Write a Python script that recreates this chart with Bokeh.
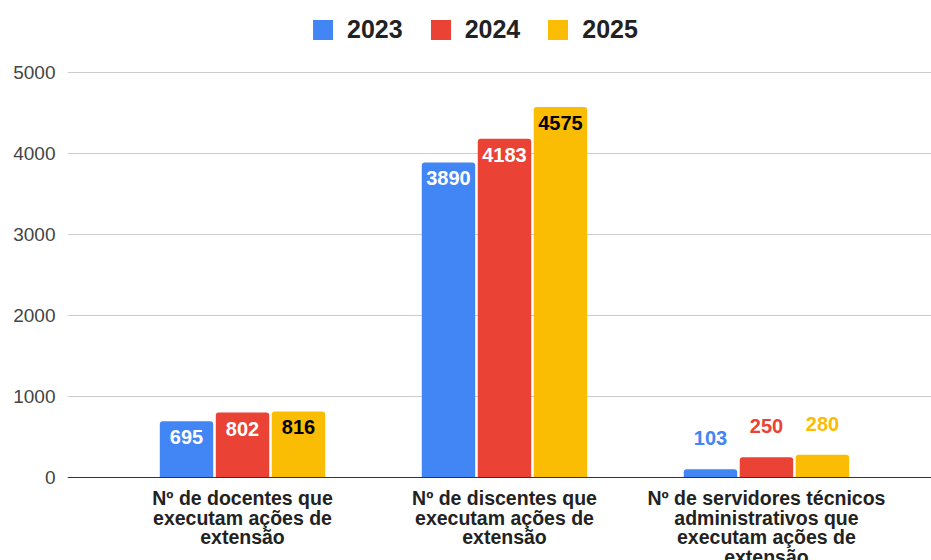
from bokeh.plotting import figure
from bokeh.models import (ColumnDataSource, Range1d, FixedTicker, Legend, LegendItem, Span)
from bokeh.core.properties import value
from bokeh.embed import file_html
from bokeh.resources import INLINE

categories = [
    "Nº de docentes que\nexecutam ações de\nextensão",
    "Nº de discentes que\nexecutam ações de\nextensão",
    "Nº de servidores técnicos\nadministrativos que\nexecutam ações de\nextensão",
]
years = ["2023", "2024", "2025"]
v2023 = [695, 3890, 103]
v2024 = [802, 4183, 250]
v2025 = [816, 4575, 280]
y_ticks = [0, 1000, 2000, 3000, 4000, 5000]

series = [v2023, v2024, v2025]
colors = ["#4285F4", "#EA4335", "#FBBC04"]
inside_label_colors = ["#ffffff", "#ffffff", "#000000"]
offsets = [-0.2137, 0.0, 0.2137]
bar_width = 0.204
FONT = "Liberation Sans"

# frame spans the full canvas height; the y range is padded so that
# 0..5000 sits where the reference draws it, leaving room for legend and category names
p = figure(width=931, height=560, output_backend="svg", toolbar_location=None,
           x_range=Range1d(-0.668, 2.630), y_range=Range1d(-1024.7, 5888.9),
           min_border_left=67, min_border_right=0, min_border_top=0, min_border_bottom=0,
           background_fill_color="white", border_fill_color="white")
p.outline_line_color = None
p.xgrid.grid_line_color = None
p.ygrid.grid_line_color = "#cccccc"
p.ygrid.grid_line_width = 1
p.ygrid.ticker = FixedTicker(ticks=y_ticks)

# y axis
p.yaxis.ticker = FixedTicker(ticks=y_ticks)
p.yaxis.axis_line_color = None
p.yaxis.major_tick_line_color = None
p.yaxis.minor_tick_line_color = None
p.yaxis.major_tick_out = 0
p.yaxis.major_tick_in = 0
p.yaxis.major_label_standoff = 12
p.yaxis.major_label_text_font = FONT
p.yaxis.major_label_text_font_size = "19px"
p.yaxis.major_label_text_color = "#444444"

p.xaxis.visible = False

# baseline at zero
p.add_layout(Span(location=0, dimension="width", line_color="#333333", line_width=1))

# category names, one centred text per wrapped line, under each category position
xs = list(range(len(categories)))
cx, cy, ctext, coff = [], [], [], []
for i, cat in zip(xs, categories):
    for k, line in enumerate(cat.split("\n")):
        cx.append(i)
        cy.append(0)
        ctext.append(line)
        coff.append(21 + k * 19.5)
cat_src = ColumnDataSource(dict(x=cx, y=cy, text=ctext, yoff=coff))
p.text(x="x", y="y", text="text", source=cat_src, y_offset="yoff",
       text_align="center", text_baseline="alphabetic",
       text_font=value(FONT), text_font_size="19.5px", text_font_style="bold",
       text_color="#222222")

items = []
for yr, vals, col, off, lc in zip(years, series, colors, offsets, inside_label_colors):
    inside = [v > 400 for v in vals]
    src = ColumnDataSource(dict(
        x=[i + off for i in xs],
        top=vals,
        label=[str(v) for v in vals],
        yoff=[16 if ins else -31 for ins in inside],
        tcol=[lc if ins else col for ins in inside],
    ))
    r = p.vbar(x="x", top="top", width=bar_width, bottom=0, source=src,
               fill_color=col, line_color=None, border_radius=(3, 3, 0, 0))
    p.text(x="x", y="top", text="label", source=src, y_offset="yoff",
           text_color="tcol", text_align="center", text_baseline="middle",
           text_font=value(FONT), text_font_style="bold", text_font_size="20px")
    items.append(LegendItem(label=yr, renderers=[r]))

legend = Legend(items=items, orientation="horizontal", location=(243, 516),
                glyph_width=25, glyph_height=25, label_standoff=12, spacing=25,
                padding=0, margin=0, border_line_color=None, background_fill_alpha=0,
                label_text_font=FONT, label_text_font_size="25px",
                label_text_font_style="bold", label_text_color="#222222")
p.add_layout(legend, "center")

open("out.html", "w").write(file_html(p, INLINE))
